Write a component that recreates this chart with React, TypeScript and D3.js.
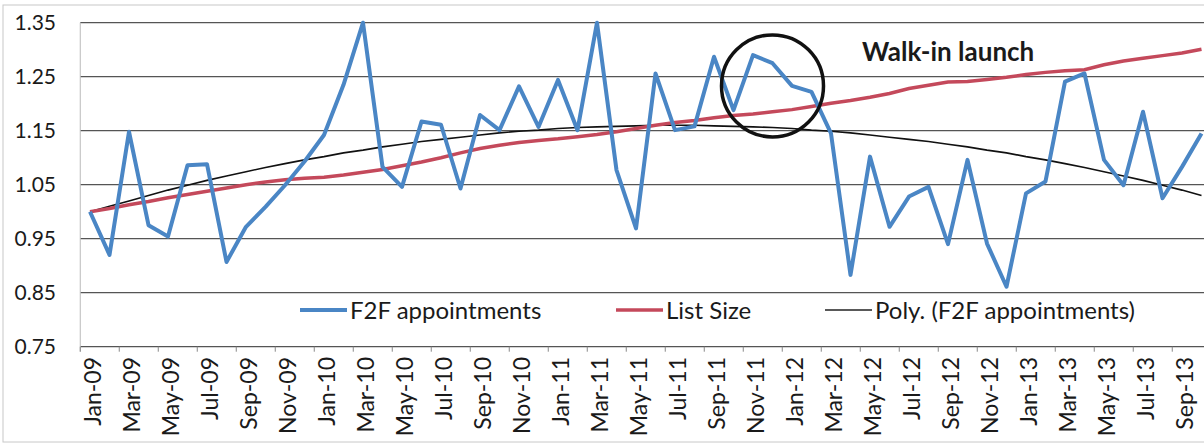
import React, { useEffect, useRef } from 'react';
import * as d3 from 'd3';

// monthly series, Jan-09 .. Oct-13 (values relative to Jan-09 = 1)
const months = [
  'Jan-09', 'Feb-09', 'Mar-09', 'Apr-09', 'May-09', 'Jun-09', 'Jul-09', 'Aug-09', 'Sep-09', 'Oct-09', 'Nov-09', 'Dec-09',
  'Jan-10', 'Feb-10', 'Mar-10', 'Apr-10', 'May-10', 'Jun-10', 'Jul-10', 'Aug-10', 'Sep-10', 'Oct-10', 'Nov-10', 'Dec-10',
  'Jan-11', 'Feb-11', 'Mar-11', 'Apr-11', 'May-11', 'Jun-11', 'Jul-11', 'Aug-11', 'Sep-11', 'Oct-11', 'Nov-11', 'Dec-11',
  'Jan-12', 'Feb-12', 'Mar-12', 'Apr-12', 'May-12', 'Jun-12', 'Jul-12', 'Aug-12', 'Sep-12', 'Oct-12', 'Nov-12', 'Dec-12',
  'Jan-13', 'Feb-13', 'Mar-13', 'Apr-13', 'May-13', 'Jun-13', 'Jul-13', 'Aug-13', 'Sep-13', 'Oct-13',
];

const f2f = [
  1.000, 0.920, 1.148, 0.975, 0.954, 1.086, 1.088, 0.907, 0.972, 1.009, 1.049, 1.093,
  1.142, 1.235, 1.350, 1.083, 1.046, 1.167, 1.161, 1.043, 1.179, 1.151, 1.232, 1.157,
  1.244, 1.151, 1.350, 1.077, 0.969, 1.256, 1.151, 1.158, 1.287, 1.188, 1.290, 1.275,
  1.233, 1.222, 1.145, 0.883, 1.102, 0.972, 1.028, 1.046, 0.940, 1.096, 0.941, 0.861,
  1.034, 1.056, 1.241, 1.256, 1.096, 1.049, 1.185, 1.025, 1.083, 1.145,
];

const listSize = [
  1.000, 1.006, 1.013, 1.019, 1.026, 1.032, 1.038, 1.044, 1.050, 1.055, 1.059, 1.062,
  1.064, 1.068, 1.073, 1.078, 1.085, 1.092, 1.100, 1.109, 1.117, 1.123, 1.128, 1.132,
  1.135, 1.139, 1.143, 1.148, 1.154, 1.160, 1.165, 1.169, 1.174, 1.178, 1.181, 1.185,
  1.189, 1.195, 1.201, 1.206, 1.212, 1.219, 1.228, 1.234, 1.240, 1.241, 1.245, 1.249,
  1.254, 1.258, 1.261, 1.263, 1.272, 1.279, 1.284, 1.289, 1.294, 1.301,
];

// Poly. (F2F appointments) trendline as drawn
const polyTrend = [
  1.000, 1.010, 1.020, 1.030, 1.040, 1.049, 1.058, 1.066, 1.074, 1.082, 1.089, 1.096,
  1.102, 1.109, 1.114, 1.120, 1.125, 1.130, 1.134, 1.138, 1.142, 1.146, 1.149, 1.151,
  1.154, 1.156, 1.157, 1.158, 1.159, 1.160, 1.160, 1.160, 1.159, 1.158, 1.157, 1.156,
  1.154, 1.151, 1.149, 1.146, 1.142, 1.138, 1.134, 1.130, 1.125, 1.120, 1.114, 1.109,
  1.102, 1.096, 1.089, 1.082, 1.074, 1.066, 1.058, 1.049, 1.040, 1.030,
];

const yTicks = [0.75, 0.85, 0.95, 1.05, 1.15, 1.25, 1.35];

const FONT = 'Lato, "Open Sans", sans-serif';
const BLUE = '#4a86c5';
const RED = '#c4495b';

const App = () => {
  const svgRef = useRef<SVGSVGElement>(null);

  useEffect(() => {
    if (!svgRef.current) return;
    const svg = d3.select(svgRef.current);
    svg.selectAll('*').remove();

    const width = 1204;
    const height = 445;
    const plotLeft = 80.25;
    const step = 19.5;

    const x = d3.scaleBand()
      .domain(months)
      .range([plotLeft, plotLeft + step * months.length])
      .padding(0);
    const cx = (m: string) => (x(m) as number) + x.bandwidth() / 2;

    const y = d3.scaleLinear()
      .domain([0.75, 1.35])
      .range([346.7, 22.7]);

    // faint frame of the scanned page
    svg.append('rect')
      .attr('x', 3).attr('y', 5)
      .attr('width', width + 10).attr('height', height - 8)
      .attr('fill', 'none')
      .attr('stroke', '#c8c8c8');

    // gridlines
    svg.append('g')
      .selectAll('line')
      .data(yTicks)
      .join('line')
      .attr('x1', plotLeft).attr('x2', width)
      .attr('y1', d => y(d)).attr('y2', d => y(d))
      .attr('stroke', '#555')
      .attr('stroke-width', 1.2);

    // y axis line
    svg.append('line')
      .attr('x1', plotLeft).attr('x2', plotLeft)
      .attr('y1', y(1.35)).attr('y2', y(0.75) + 5)
      .attr('stroke', '#bbb');

    // y labels
    svg.append('g')
      .selectAll('text')
      .data(yTicks)
      .join('text')
      .attr('x', 56)
      .attr('y', d => y(d))
      .attr('dy', '0.36em')
      .attr('text-anchor', 'end')
      .style('font-family', FONT)
      .style('font-size', '21px')
      .attr('fill', '#1a1a1a')
      .text(d => d.toFixed(2));

    // x ticks every 2 months
    const everyOther = months.filter((_, i) => i % 2 === 0);
    svg.append('g')
      .selectAll('line')
      .data(everyOther)
      .join('line')
      .attr('x1', d => x(d) as number).attr('x2', d => x(d) as number)
      .attr('y1', y(0.75)).attr('y2', y(0.75) + 5)
      .attr('stroke', '#888');

    svg.append('g')
      .selectAll('text')
      .data(everyOther)
      .join('text')
      .attr('transform', d => `translate(${cx(d) + 3}, 357) rotate(-90)`)
      .attr('dy', '0.36em')
      .attr('text-anchor', 'end')
      .style('font-family', FONT)
      .style('font-size', '23px')
      .attr('fill', '#1a1a1a')
      .text(d => d);

    // lines
    const line = d3.line<number>()
      .x((_, i) => cx(months[i]))
      .y(d => y(d));

    svg.append('path')
      .attr('d', line(polyTrend))
      .attr('fill', 'none')
      .attr('stroke', '#111')
      .attr('stroke-width', 1.6);

    svg.append('path')
      .attr('d', line(listSize))
      .attr('fill', 'none')
      .attr('stroke', RED)
      .attr('stroke-width', 3.5);

    svg.append('path')
      .attr('d', line(f2f))
      .attr('fill', 'none')
      .attr('stroke', BLUE)
      .attr('stroke-width', 4)
      .attr('stroke-linejoin', 'round');

    // annotation: walk-in launch
    svg.append('circle')
      .attr('cx', cx('Dec-11'))
      .attr('cy', y(1.233))
      .attr('r', 51)
      .attr('fill', 'none')
      .attr('stroke', '#111')
      .attr('stroke-width', 3.5);

    svg.append('text')
      .attr('x', 862)
      .attr('y', y(1.28))
      .style('font-family', FONT)
      .style('font-size', '26px')
      .style('font-weight', 'bold')
      .attr('fill', '#1a1a1a')
      .text('Walk-in launch');

    // legend
    const legendItems = [
      { label: 'F2F appointments', color: BLUE, w: 4, x0: 300 },
      { label: 'List Size', color: RED, w: 3.5, x0: 616 },
      { label: 'Poly. (F2F appointments)', color: '#222', w: 1.6, x0: 825 },
    ];
    const legend = svg.append('g')
      .selectAll('g')
      .data(legendItems)
      .join('g')
      .attr('transform', d => `translate(${d.x0}, 310)`);
    legend.append('line')
      .attr('x1', 0).attr('x2', 47)
      .attr('stroke', d => d.color)
      .attr('stroke-width', d => d.w);
    legend.append('text')
      .attr('x', 50)
      .attr('dy', '0.36em')
      .style('font-family', FONT)
      .style('font-size', '24px')
      .attr('fill', '#1a1a1a')
      .text(d => d.label);
  }, []);

  return (
    <svg
      ref={svgRef}
      width={1204}
      height={445}
      style={{ position: 'absolute', left: 0, top: 0, background: '#fff' }}
    />
  );
};

export default App;
